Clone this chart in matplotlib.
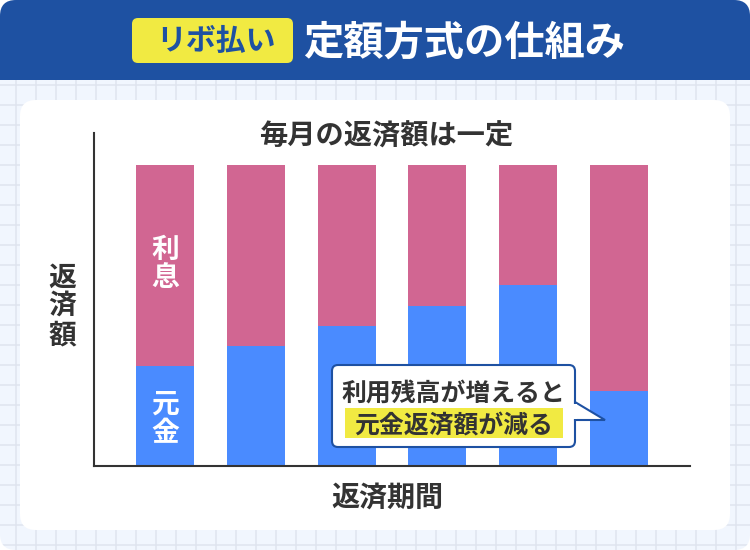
import matplotlib
matplotlib.use("Agg")
import matplotlib.pyplot as plt
from matplotlib.patches import FancyBboxPatch, Polygon, Rectangle, PathPatch
from matplotlib.path import Path
import numpy as np

plt.rcParams['font.family'] = ['Noto Sans CJK JP', 'DejaVu Sans']

# values (total is constant)
periods = ['1', '2', '3', '4', '5', '6']
principal = [100, 120, 140, 160, 180, 75]
interest = [200, 180, 160, 140, 120, 225]

BLUE = '#4a8bff'
PINK = '#d16692'
NAVY = '#1e51a2'
YELLOW = '#f1ea42'
DARK = '#333333'
WEIGHT = 'bold'

fig = plt.figure(figsize=(7.5, 5.5), dpi=100, facecolor='white')

# background layer in pixel coordinates
bg = fig.add_axes([0, 0, 1, 1])
bg.set_xlim(0, 750)
bg.set_ylim(550, 0)
bg.axis('off')

panel = FancyBboxPatch((0, 0), 750, 550, boxstyle='round,pad=0,rounding_size=16',
                       fc='#f1f6fe', ec='none')
bg.add_patch(panel)
for gx in np.arange(15.5, 750, 20):
    ln = bg.plot([gx, gx], [80, 550], color='#dfe4ef', lw=1.1, zorder=1)[0]
    ln.set_clip_path(panel)
for gy in np.arange(84.5, 550, 20):
    ln = bg.plot([0, 750], [gy, gy], color='#dfe4ef', lw=1.1, zorder=1)[0]
    ln.set_clip_path(panel)

# header band, rounded at the top only
r = 16
verts = [(0, 80), (0, r), (0, 0), (r, 0), (750 - r, 0), (750, 0), (750, r), (750, 80), (0, 80)]
codes = [Path.MOVETO, Path.LINETO, Path.CURVE3, Path.CURVE3, Path.LINETO,
         Path.CURVE3, Path.CURVE3, Path.LINETO, Path.CLOSEPOLY]
bg.add_patch(PathPatch(Path(verts, codes), fc=NAVY, ec='none', zorder=2))

bg.add_patch(FancyBboxPatch((132, 18), 161, 45, boxstyle='round,pad=0,rounding_size=6',
                            fc=YELLOW, ec='none', zorder=3))
bg.text(215.5, 41, 'リボ払い', color=NAVY, fontsize=21.5, fontweight='bold',
        ha='center', va='center', zorder=4)
bg.text(464.5, 43, '定額方式の仕組み', color='white', fontsize=29, fontweight='bold',
        ha='center', va='center', zorder=4)

# white card
bg.add_patch(FancyBboxPatch((20, 100), 710, 430, boxstyle='round,pad=0,rounding_size=16',
                            fc='white', ec='none', zorder=3))

# chart
ax = fig.add_axes([94 / 750, (550 - 466) / 550, (690 - 94) / 750, (466 - 133) / 550])
ax.patch.set_alpha(0)
x = np.arange(len(periods))
ax.bar(x, principal, width=0.639, color=BLUE)
ax.bar(x, interest, width=0.639, bottom=principal, color=PINK)
ax.set_xlim(-0.782, 5.782)
ax.set_ylim(0, 332)
ax.set_xticks([])
ax.set_yticks([])
for side in ['top', 'right']:
    ax.spines[side].set_visible(False)
for side in ['left', 'bottom']:
    ax.spines[side].set_color(DARK)
    ax.spines[side].set_linewidth(1.5)

# overlay for labels and callout
fg = fig.add_axes([0, 0, 1, 1])
fg.set_xlim(0, 750)
fg.set_ylim(550, 0)
fg.axis('off')
fg.patch.set_alpha(0)

fg.text(386.5, 137, '毎月の返済額は一定', color=DARK, fontsize=20.3, fontweight=WEIGHT,
        ha='center', va='center')
fg.text(387, 498, '返済期間', color=DARK, fontsize=20.2, fontweight=WEIGHT,
        ha='center', va='center')
for ch, yy in zip('返済額', [278, 306, 335]):
    fg.text(62, yy, ch, color=DARK, fontsize=20, fontweight=WEIGHT, ha='center', va='center')
for ch, yy in zip('利息', [250, 278]):
    fg.text(165, yy, ch, color='white', fontsize=20, fontweight='bold', ha='center', va='center')
for ch, yy in zip('元金', [405, 433]):
    fg.text(165, yy, ch, color='white', fontsize=20, fontweight='bold', ha='center', va='center')

# callout bubble
fg.add_patch(FancyBboxPatch((332, 365), 243, 82, boxstyle='round,pad=0,rounding_size=6',
                            fc='white', ec=NAVY, lw=1.5, zorder=5))
fg.add_patch(Polygon([(575, 402), (605, 420), (575, 420)], closed=True,
                     fc='white', ec=NAVY, lw=1.5, zorder=5, joinstyle='miter'))
fg.add_patch(Rectangle((572, 403.5), 4.5, 15.5, fc='white', ec='none', zorder=6))
fg.add_patch(Rectangle((345, 408), 218, 30, fc=YELLOW, ec='none', zorder=6))
fg.text(453, 395, '利用残高が増えると', color=DARK, fontsize=17.9, fontweight=WEIGHT,
        ha='center', va='center', zorder=7)
fg.text(453.5, 426, '元金返済額が減る', color=DARK, fontsize=17.9, fontweight=WEIGHT,
        ha='center', va='center', zorder=7)

fig.savefig('out.png', dpi=100)
